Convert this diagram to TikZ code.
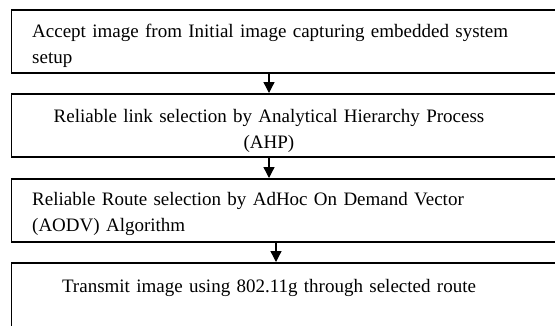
\documentclass[tikz,border=0pt]{standalone}
\usepackage{fontspec}
\setmainfont{Liberation Serif}
\usetikzlibrary{arrows.meta}
\begin{document}
\begin{tikzpicture}[x=1pt,y=-1pt,
    box/.style={draw,line width=1.6pt,fill=white,anchor=north west,
      minimum width=549.5pt,minimum height=63pt,inner sep=0pt},
    txt/.style={inner sep=0pt,text width=520pt,
      font=\fontsize{19}{26}\selectfont},
    flow/.style={-{Triangle[width=11pt,length=11pt]},line width=1.3pt}]
      \clip (0,0) rectangle (555,325);
      \fill[white] (0,0) rectangle (555,325);
      \draw
        (10.5,9) node[box] (b1){}
        (10.5,93) node[box] (b2){}
        (10.5,178) node[box] (b3){}
        (10.5,262) node[box,minimum height=80pt] (b4){};
      \draw
        (32,37) node[txt,anchor=base west,align=left] (1){Accept image from Initial image capturing embedded system\\setup}
        (269,122) node[txt,anchor=base,align=center] (2){Reliable link selection by Analytical Hierarchy Process\\(AHP)}
        (32,205) node[txt,anchor=base west,align=left] (3){Reliable Route selection by AdHoc On Demand Vector\\(AODV) Algorithm}
        (269,292) node[txt,anchor=base,align=center] (4){Transmit image using 802.11g through selected route};
      \coordinate (a3) at (276,250);
      \begin{scope}[flow]
        \draw (b1.south -| 2) to (b2.north -| 2);
        \draw (b2.south -| 2) to (b3.north -| 2);
        \draw (b3.south -| a3) to (b4.north -| a3);
      \end{scope}
    \end{tikzpicture}
\end{document}
